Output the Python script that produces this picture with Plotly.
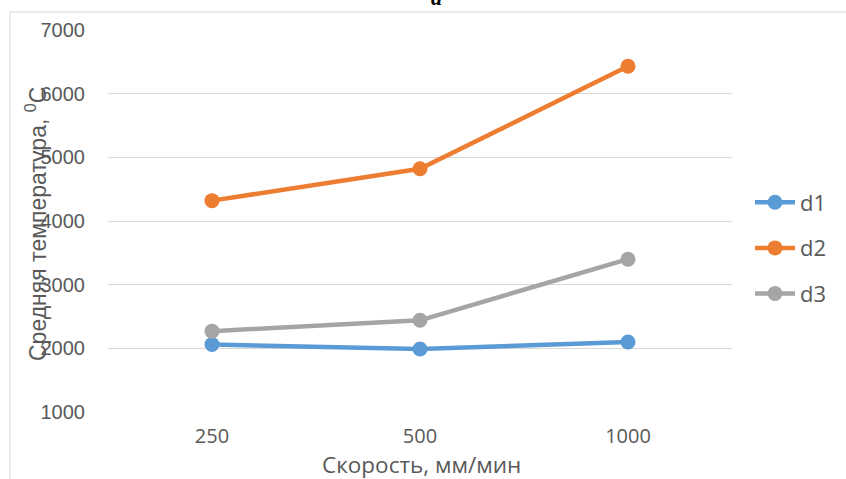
import plotly.graph_objects as go

categories = ["250", "500", "1000"]
d1 = [2060, 1990, 2100]
d2 = [4320, 4820, 6430]
d3 = [2270, 2440, 3400]
y_ticks = [1000, 2000, 3000, 4000, 5000, 6000, 7000]

series = [("d1", d1, "#5B9BD5"), ("d2", d2, "#ED7D31"), ("d3", d3, "#A5A5A5")]

fig = go.Figure()
for name, vals, col in series:
    fig.add_trace(go.Scatter(
        x=categories, y=vals, name=name, mode="lines+markers",
        legendgroup=name,
        line=dict(color=col, width=4.5),
        marker=dict(color=col, size=15),
    ))

W, H = 846, 479
L, R, T, B = 108, 114, 30, 67
pw, ph = W - L - R, H - T - B

def px(x):
    return (x - L) / pw

def py(y):
    return (H - B - y) / ph

fig.update_layout(
    width=W, height=H,
    margin=dict(l=L, r=R, t=T, b=B),
    paper_bgcolor="white", plot_bgcolor="white",
    showlegend=True,
    legend=dict(x=px(750), y=py(248), xanchor="left", yanchor="middle",
                font=dict(family="Open Sans", size=22, color="#595959"),
                bgcolor="rgba(0,0,0,0)", tracegroupgap=14, itemwidth=40),
    xaxis=dict(type="category", range=[-0.5, 2.5], showgrid=False, showline=False,
               zeroline=False, ticks="",
               tickfont=dict(family="Open Sans", size=20, color="#595959"),
               ticklabelstandoff=10),
    yaxis=dict(range=[1000, 7000], tickvals=y_ticks, showgrid=True, gridcolor="#D9D9D9",
               gridwidth=1, zeroline=False, showline=False, ticks="",
               tickfont=dict(family="Liberation Sans", size=20, color="#595959"),
               ticklabelstandoff=22),
    annotations=[
        dict(text="Средняя температура, <sup>0</sup>С", textangle=-90,
             x=px(36), y=py(224), xref="paper", yref="paper", showarrow=False,
             xanchor="center", yanchor="middle",
             font=dict(family="Liberation Sans", size=23, color="#595959")),
        dict(text="Скорость, мм/мин", x=px(421), y=py(464), xref="paper", yref="paper",
             showarrow=False, xanchor="center", yanchor="middle",
             font=dict(family="Open Sans", size=22.5, color="#595959")),
        dict(text="<b><i>a</i></b>", x=px(436), y=py(-3), xref="paper", yref="paper",
             showarrow=False, xanchor="center", yanchor="middle",
             font=dict(family="Liberation Serif", size=22, color="black")),
    ],
    shapes=[
        dict(type="line", xref="paper", yref="paper", x0=px(10), x1=px(860),
             y0=py(12), y1=py(12), line=dict(color="#D9D9D9", width=1)),
        dict(type="line", xref="paper", yref="paper", x0=px(10), x1=px(10),
             y0=py(12), y1=py(490), line=dict(color="#D9D9D9", width=1)),
    ],
)

fig.write_html("out.html")
